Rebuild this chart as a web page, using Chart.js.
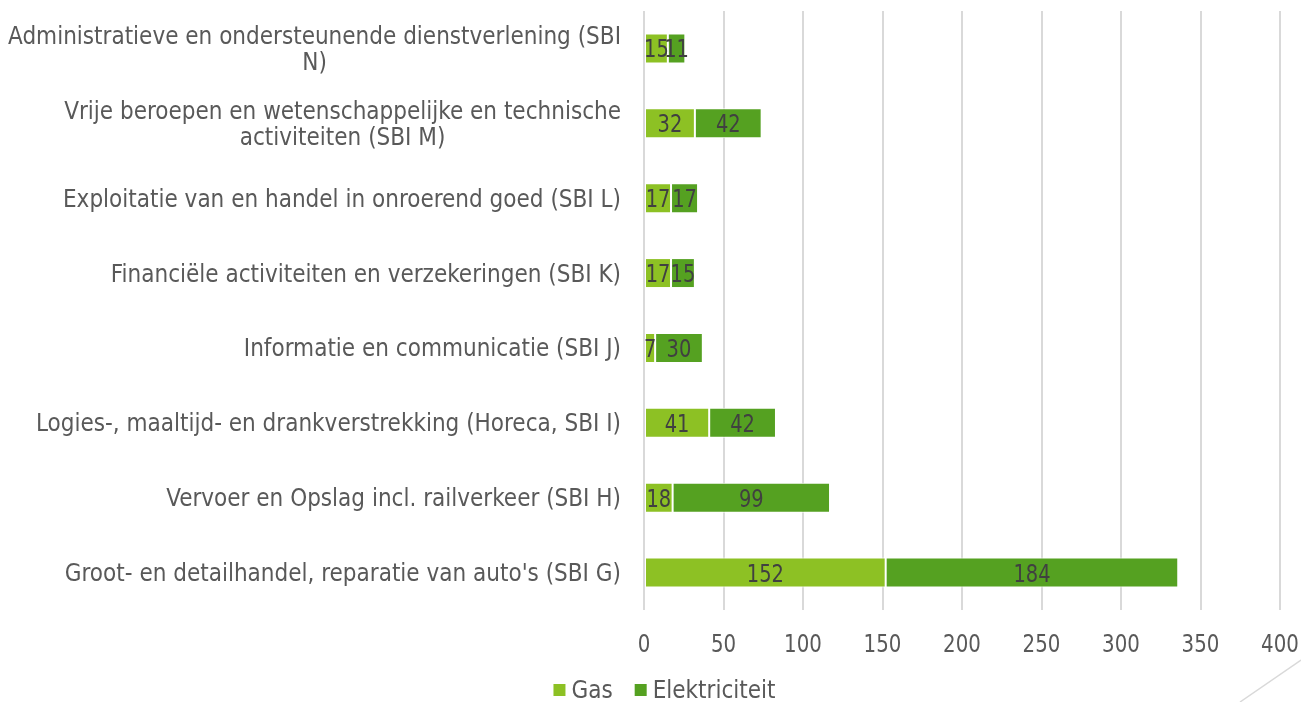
<!DOCTYPE html>
<html><head><meta charset="utf-8">
<script src="https://cdn.jsdelivr.net/npm/chart.js@4"></script>
<style>html,body{margin:0;padding:0;background:#fff}#wrap{width:1301px;height:702px;position:relative}</style>
</head><body><div id="wrap"><canvas id="c"></canvas></div>
<script>
const categories = [
  ["Administratieve en ondersteunende dienstverlening (SBI", "N)"],
  ["Vrije beroepen en wetenschappelijke en technische", "activiteiten (SBI M)"],
  ["Exploitatie van en handel in onroerend goed (SBI L)"],
  ["Financiële activiteiten en verzekeringen (SBI K)"],
  ["Informatie en communicatie (SBI J)"],
  ["Logies-, maaltijd- en drankverstrekking (Horeca, SBI I)"],
  ["Vervoer en Opslag incl. railverkeer (SBI H)"],
  ["Groot- en detailhandel, reparatie van auto's (SBI G)"]
];
const seriesNames = ["Gas", "Elektriciteit"];
const gasValues = [15, 32, 17, 17, 7, 41, 18, 152];
const elecValues = [11, 42, 17, 15, 30, 42, 99, 184];
const xTickValues = [0, 50, 100, 150, 200, 250, 300, 350, 400];

const FONT = '"DejaVu Sans Condensed", "DejaVu Sans", sans-serif';
const COLORS = ['#8dc124', '#55a121'];

function drawNarrow(ctx, text, x, y, sx) {
  ctx.save();
  ctx.translate(x, y);
  ctx.scale(sx, 1);
  ctx.fillText(text, 0, 0);
  ctx.restore();
}

const customDraw = {
  id: 'customDraw',
  afterDatasetsDraw(chart) {
    const ctx = chart.ctx;
    const area = chart.chartArea;
    ctx.save();
    // data labels
    ctx.font = '24px ' + FONT;
    ctx.fillStyle = '#404040';
    ctx.textAlign = 'center';
    ctx.textBaseline = 'alphabetic';
    chart.data.datasets.forEach((ds, di) => {
      const meta = chart.getDatasetMeta(di);
      meta.data.forEach((bar, i) => {
        const p = bar.getProps(['x', 'y', 'base'], true);
        const cx = (p.x + p.base) / 2;
        drawNarrow(ctx, String(ds.data[i]), cx, p.y + 9, 0.9);
      });
    });
    // category labels
    const ys = chart.scales.y;
    ctx.font = '24px ' + FONT;
    ctx.fillStyle = '#595959';
    const rightEdge = area.left - 23;
    const lh = 26;
    categories.forEach((lines, i) => {
      const yc = ys.getPixelForTick(i);
      let maxW = 0;
      lines.forEach(l => { maxW = Math.max(maxW, ctx.measureText(l).width); });
      const cx = rightEdge - maxW / 2;
      const y0 = yc - (lines.length - 1) * lh / 2 + 8.5;
      lines.forEach((l, k) => ctx.fillText(l, cx, y0 + k * lh));
    });
    // x tick labels
    const xs = chart.scales.x;
    ctx.font = '25px ' + FONT;
    xTickValues.forEach(v => {
      drawNarrow(ctx, String(v), xs.getPixelForValue(v), area.bottom + 42, 0.88);
    });
    // legend
    ctx.font = '24px ' + FONT;
    ctx.textAlign = 'left';
    const box = 12, gapBox = 6, gapItem = 22;
    const widths = seriesNames.map(n => ctx.measureText(n).width);
    let total = 0;
    widths.forEach((w, i) => { total += box + gapBox + w + (i < widths.length - 1 ? gapItem : 0); });
    let x = (chart.width - total) / 2 + 14;
    const base = 698;
    seriesNames.forEach((n, i) => {
      ctx.fillStyle = COLORS[i];
      ctx.fillRect(x, base - 14, box, box);
      ctx.fillStyle = '#595959';
      ctx.fillText(n, x + box + gapBox, base);
      x += box + gapBox + widths[i] + gapItem;
    });
    ctx.restore();
  },
  afterDraw(chart) {
    const ctx = chart.ctx;
    ctx.save();
    ctx.strokeStyle = '#d9d9d9';
    ctx.lineWidth = 1.5;
    ctx.beginPath();
    ctx.moveTo(1240, 702);
    ctx.lineTo(1301, 660);
    ctx.stroke();
    ctx.restore();
  }
};

new Chart(document.getElementById('c'), {
  type: 'bar',
  data: {
    labels: categories,
    datasets: [
      { label: seriesNames[0], data: gasValues, backgroundColor: COLORS[0], borderColor: '#ffffff', borderWidth: 1, borderSkipped: false, barPercentage: 0.4, categoryPercentage: 1 },
      { label: seriesNames[1], data: elecValues, backgroundColor: COLORS[1], borderColor: '#ffffff', borderWidth: 1, borderSkipped: false, barPercentage: 0.4, categoryPercentage: 1 }
    ]
  },
  options: {
    indexAxis: 'y',
    responsive: true,
    maintainAspectRatio: false,
    animation: false,
    layout: { padding: { left: 0, right: 21, top: 11, bottom: 92 } },
    scales: {
      x: {
        stacked: true,
        min: 0, max: 400,
        afterBuildTicks(scale) { scale.ticks = xTickValues.map(v => ({ value: v })); },
        grid: { color: '#d9d9d9', lineWidth: 2, drawTicks: false },
        border: { display: false },
        ticks: { display: false }
      },
      y: {
        stacked: true,
        afterFit(scale) { scale.width = 644; },
        grid: { display: false },
        border: { display: false },
        ticks: { display: false }
      }
    },
    plugins: {
      legend: { display: false },
      tooltip: { enabled: false }
    }
  },
  plugins: [customDraw]
});
</script></body></html>
